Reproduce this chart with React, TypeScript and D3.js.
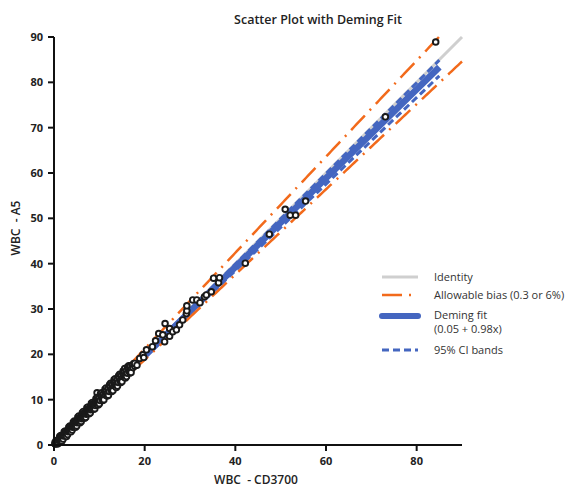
import React from "react";
import * as d3 from "d3";

const title = "Scatter Plot with Deming Fit";
const xLabel = "WBC\u00a0\u00a0- CD3700";
const yLabel = "WBC\u00a0\u00a0- A5";
const xTicks = [0, 20, 40, 60, 80];
const yTicks = [0, 10, 20, 30, 40, 50, 60, 70, 80, 90];

// CD3700 (x) and A5 (y) measurements
const cd3700 = [
  0.2, 0.3, 0.4, 0.5, 0.6, 0.7, 0.8, 0.9, 1.0, 1.1, 1.2, 1.3, 1.4, 1.5, 1.6, 1.7, 1.8, 1.9, 2.0, 2.1,
  2.2, 2.3, 2.4, 2.5, 2.6, 2.7, 2.8, 2.9, 3.0, 3.1, 3.2, 3.3, 3.4, 3.5, 3.6, 3.7, 3.8, 3.9, 4.0, 4.1,
  4.2, 4.3, 4.4, 4.5, 4.6, 4.7, 4.8, 4.9, 5.0, 5.1, 5.2, 5.3, 5.4, 5.5, 5.6, 5.7, 5.8, 5.9, 6.0, 6.1,
  6.2, 6.3, 6.4, 6.5, 6.6, 6.7, 6.8, 6.9, 7.0, 7.1, 7.2, 7.3, 7.4, 7.5, 7.6, 7.7, 7.8, 7.9, 8.0, 8.1,
  8.2, 8.3, 8.4, 8.5, 8.6, 8.7, 8.8, 8.9, 9.0, 9.1, 9.2, 9.3, 9.4, 9.5, 9.6, 9.7, 9.5, 9.8, 9.9, 10.0,
  10.2, 10.4, 10.6, 10.8, 11.0, 11.2, 11.4, 11.6, 11.8, 12.0, 12.2, 12.4, 12.6, 12.8, 13.0, 13.2, 13.4, 13.6, 13.8, 14.0,
  14.2, 14.4, 14.6, 14.8, 15.0, 15.2, 15.4, 15.6, 15.8, 16.0, 16.2, 16.4, 16.6, 16.8, 17.0, 17.2, 17.4, 17.6, 17.8,
  0.5, 1.0, 1.5, 2.0, 2.5, 3.0, 3.5, 4.0, 4.5, 5.0, 5.5, 6.0, 6.5, 7.0, 7.5, 8.0, 8.5, 9.0, 9.5, 10.0,
  10.5, 11.0, 11.5, 12.0, 12.5, 13.0, 13.5, 14.0, 14.5, 15.0, 15.5, 16.0, 16.5, 17.0,
  0.25, 0.75, 1.25, 1.75, 2.25, 2.75, 3.25, 3.75, 4.25, 4.75, 5.25, 5.75, 6.25, 6.75, 7.25, 7.75, 8.25, 8.75, 9.25, 9.75,
  10.25, 10.75, 11.25, 11.75, 12.25, 12.75, 13.25, 13.75, 14.25, 14.75, 15.25, 15.75, 16.25, 16.75,
  17.8, 18.3, 18.9, 19.6, 20.4, 19.8, 21.7, 22.4, 23.1, 24.0, 24.4, 25.5, 24.5, 25.5, 26.2, 27.0, 27.7, 28.4, 29.2, 29.3,
  29.3, 30.6, 31.5, 32.2, 33.2, 33.6, 34.7, 36.3, 35.2, 36.5, 42.2, 47.5, 51.0, 52.1, 53.3, 55.5, 73.1, 84.2,
];
const a5 = [
  0.3, 0.2, 0.5, 0.4, 0.7, 0.6, 0.9, 0.8, 1.1, 1.0, 1.3, 1.2, 1.5, 1.4, 1.8, 1.6, 1.9, 1.8, 2.2, 2.0,
  2.3, 2.1, 2.6, 2.4, 2.7, 2.5, 3.0, 2.8, 3.2, 2.9, 3.4, 3.1, 3.5, 3.3, 3.8, 3.5, 4.0, 3.7, 4.2, 3.9,
  4.4, 4.1, 4.6, 4.3, 4.9, 4.5, 5.0, 4.7, 5.3, 4.9, 5.4, 5.1, 5.7, 5.2, 5.8, 5.5, 6.1, 5.6, 6.2, 5.8,
  6.5, 6.0, 6.7, 6.2, 6.9, 6.4, 7.1, 6.6, 7.3, 6.8, 7.5, 7.0, 7.7, 7.2, 7.9, 7.4, 8.1, 7.6, 8.3, 7.8,
  8.6, 8.0, 8.7, 8.2, 9.0, 8.3, 9.1, 8.6, 9.4, 8.7, 9.6, 9.0, 9.7, 9.1, 10.0, 9.3, 11.5, 10.2, 9.6, 10.4,
  9.8, 10.8, 10.2, 11.2, 10.6, 11.7, 11.0, 12.0, 11.4, 12.5, 11.8, 12.9, 12.2, 13.3, 12.6, 13.7, 13.0, 14.0, 13.4, 14.5,
  13.8, 14.9, 14.2, 15.3, 14.6, 15.7, 15.0, 16.9, 15.4, 16.5, 15.8, 17.0, 16.2, 17.4, 16.6, 17.6, 17.1, 18.0, 17.4,
  1.0, 0.4, 2.1, 1.3, 3.1, 2.3, 4.2, 3.3, 5.3, 4.2, 6.4, 5.2, 7.4, 6.1, 8.4, 7.1, 9.4, 8.0, 10.5, 9.1,
  11.5, 10.0, 12.6, 11.0, 13.6, 12.0, 14.6, 13.0, 15.6, 14.0, 16.4, 15.1, 17.5, 16.0,
  0.6, 0.2, 1.9, 0.9, 2.9, 1.9, 3.9, 2.9, 5.0, 3.9, 6.1, 4.9, 7.1, 5.9, 8.2, 6.9, 9.2, 7.9, 10.2, 8.8,
  11.3, 9.8, 12.3, 10.8, 13.3, 11.8, 14.4, 12.7, 15.3, 13.8, 16.3, 14.8, 17.2, 15.9,
  18.0, 17.6, 19.1, 19.9, 21.0, 19.3, 21.7, 23.0, 24.6, 24.3, 22.8, 24.0, 26.8, 25.7, 25.0, 25.4, 26.5, 27.6, 29.0, 29.6,
  30.7, 32.0, 32.0, 31.4, 32.7, 33.1, 33.8, 35.8, 36.8, 36.9, 40.1, 46.5, 52.0, 50.7, 50.7, 53.8, 72.4, 88.9,
];

// Fit and limits
const identityRange = [0, 90];
const demingIntercept = 0.05;
const demingSlope = 0.98;
const ciUpper = [-0.1, 1.0]; // intercept, slope
const ciLower = [0.25, 0.955];
const fitRange = [0, 85];
const biasAbs = 0.3;
const biasPct = 0.06;

const legendItems = ["Identity", "Allowable bias (0.3 or 6%)", "Deming fit", "(0.05 + 0.98x)", "95% CI bands"];

const W = 570;
const H = 490;
const ORANGE = "#f26a1b";
const BLUE = "#4466c0";
const GRAY = "#cfcfcf";
const FONT = "'Open Sans', 'DejaVu Sans', sans-serif";

export default function App() {
  const x = d3.scaleLinear().domain([0, 90]).range([54, 462]);
  const y = d3.scaleLinear().domain([0, 90]).range([445, 37]);

  const line = d3
    .line<[number, number]>()
    .x((d) => x(d[0]))
    .y((d) => y(d[1]));

  const sample = (x0: number, x1: number, f: (v: number) => number, n = 200) =>
    d3.range(n + 1).map((i) => {
      const v = x0 + ((x1 - x0) * i) / n;
      return [v, f(v)] as [number, number];
    });

  const upperBias = (v: number) => Math.max(v + biasAbs, v * (1 + biasPct));
  const lowerBias = (v: number) => Math.min(v - biasAbs, v * (1 - biasPct));
  const upperEnd = 90 / (1 + biasPct);

  const points = d3.sort(
    cd3700.map((v, i) => [v, a5[i]] as [number, number]),
    (a, b) => a[0] - b[0]
  );

  const lx0 = 382;
  const lx1 = 418;
  const tx = 434;

  return (
    <svg
      width={W}
      height={H}
      style={{ position: "absolute", left: 0, top: 0, background: "#fff" }}
      fontFamily={FONT}
    >
      <text x={318} y={24} textAnchor="middle" fontSize={12.5} fontWeight={600} fill="#222">
        {title}
      </text>

      {/* identity */}
      <path d={line(identityRange.map((v) => [v, v] as [number, number])) || ""} stroke={GRAY} strokeWidth={3} fill="none" />
      {/* Deming fit */}
      <path
        d={line(sample(fitRange[0], fitRange[1], (v) => demingIntercept + demingSlope * v, 2)) || ""}
        stroke={BLUE}
        strokeWidth={6.5}
        fill="none"
      />
      {/* CI bands */}
      {[ciUpper, ciLower].map((c, i) => (
        <path
          key={i}
          d={line(sample(fitRange[0], fitRange[1], (v) => Math.max(0, c[0] + c[1] * v), 2)) || ""}
          stroke={BLUE}
          strokeWidth={3}
          strokeDasharray="7 4"
          fill="none"
        />
      ))}
      {/* allowable bias */}
      <path
        d={line(sample(0, upperEnd, upperBias)) || ""}
        stroke={ORANGE}
        strokeWidth={2.5}
        strokeDasharray="20 7 2 7"
        fill="none"
      />
      <path
        d={line(sample(biasAbs, 90, lowerBias)) || ""}
        stroke={ORANGE}
        strokeWidth={2.5}
        strokeDasharray="20 7 2 7"
        fill="none"
      />

      {/* points */}
      {points.map((p, i) => (
        <circle key={i} cx={x(p[0])} cy={y(p[1])} r={2.8} fill="#fff" stroke="#1a1a1a" strokeWidth={1.9} />
      ))}

      {/* axes */}
      <line x1={x(0)} x2={x(0)} y1={y(0)} y2={y(90)} stroke="#111" strokeWidth={2} />
      <line x1={x(0)} x2={x(90)} y1={y(0)} y2={y(0)} stroke="#111" strokeWidth={2} />
      {yTicks.map((t) => (
        <g key={"y" + t}>
          <line x1={x(0) - 6} x2={x(0)} y1={y(t)} y2={y(t)} stroke="#111" strokeWidth={2} />
          <text x={x(0) - 11} y={y(t) + 4} textAnchor="end" fontSize={11} fontWeight={700} fill="#222">
            {t}
          </text>
        </g>
      ))}
      {xTicks.map((t) => (
        <g key={"x" + t}>
          <line x1={x(t)} x2={x(t)} y1={y(0)} y2={y(0) + 6} stroke="#111" strokeWidth={2} />
          <text x={x(t)} y={y(0) + 20} textAnchor="middle" fontSize={11} fontWeight={700} fill="#222">
            {t}
          </text>
        </g>
      ))}
      <text x={256} y={484} textAnchor="middle" fontSize={12} fontWeight={600} fill="#222">
        {xLabel}
      </text>
      <text
        transform={`translate(20, 228) rotate(-90)`}
        textAnchor="middle"
        fontSize={12}
        fontWeight={600}
        fill="#222"
      >
        {yLabel}
      </text>

      {/* legend */}
      <line x1={lx0} x2={lx1} y1={277} y2={277} stroke={GRAY} strokeWidth={3} />
      <line x1={lx0} x2={lx1} y1={295} y2={295} stroke={ORANGE} strokeWidth={2.5} strokeDasharray="20 7 2 20" />
      <line x1={lx0} x2={lx1} y1={316} y2={316} stroke={BLUE} strokeWidth={6} strokeLinecap="round" />
      <line x1={lx0} x2={lx1} y1={350} y2={350} stroke={BLUE} strokeWidth={3} strokeDasharray="7 4" />
      <text x={tx} y={281} fontSize={11} fill="#333">{legendItems[0]}</text>
      <text x={tx} y={299} fontSize={11} fill="#333">{legendItems[1]}</text>
      <text x={tx} y={319} fontSize={11} fill="#333">{legendItems[2]}</text>
      <text x={tx} y={333} fontSize={11} fill="#333">{legendItems[3]}</text>
      <text x={tx} y={354} fontSize={11} fill="#333">{legendItems[4]}</text>
    </svg>
  );
}
